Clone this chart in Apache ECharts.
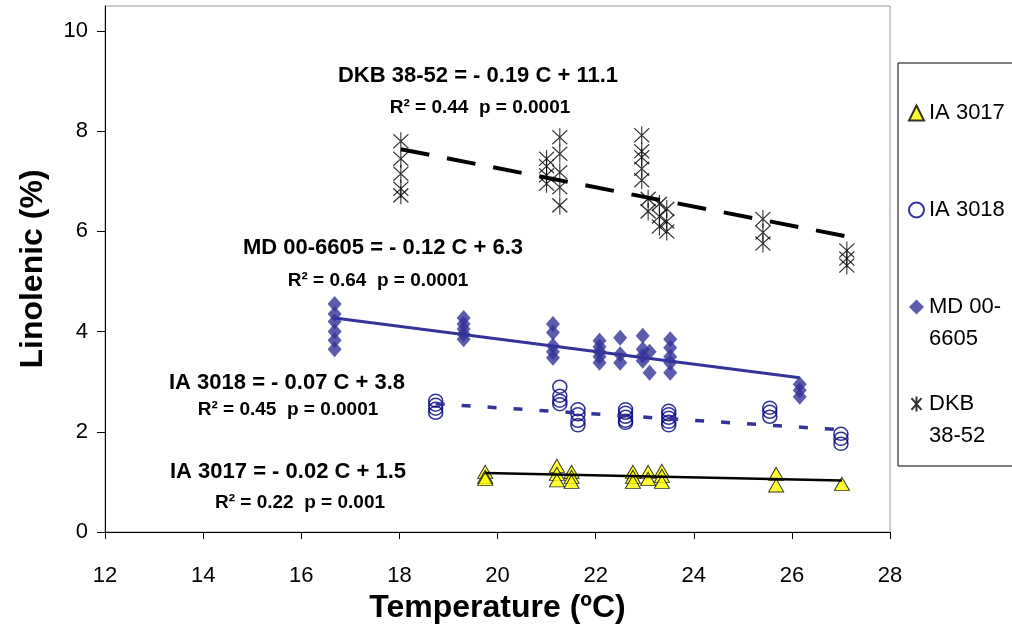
<!DOCTYPE html>
<html lang="en">
<head>
<meta charset="UTF-8">
<title>Linolenic vs Temperature</title>
<script src="https://cdn.jsdelivr.net/npm/echarts@6.0.0/dist/echarts.min.js"></script>
<style>
  html, body { margin: 0; padding: 0; background: #fff; }
  #chart { width: 1012px; height: 630px; }
</style>
</head>
<body>
<div id="chart"></div>
<script type="text/javascript">
// series points [temperature, linolenic]
var ia3017 = [
  [19.75, 1.2], [19.75, 1.1], [19.75, 1.06],
  [21.21, 1.32], [21.21, 1.16], [21.21, 1.03],
  [21.51, 1.2], [21.51, 1.1], [21.51, 1.0],
  [22.76, 1.2], [22.76, 1.1], [22.76, 1.0],
  [23.07, 1.2], [23.07, 1.06],
  [23.35, 1.22], [23.35, 1.12], [23.35, 1.0],
  [25.68, 1.16], [25.68, 0.93],
  [27.02, 0.96]
];
var ia3018 = [
  [18.74, 2.62], [18.74, 2.54], [18.74, 2.46], [18.74, 2.38],
  [21.27, 2.9], [21.27, 2.72], [21.27, 2.62], [21.27, 2.55],
  [21.64, 2.45], [21.64, 2.35], [21.64, 2.22], [21.64, 2.13],
  [22.61, 2.45], [22.61, 2.38], [22.61, 2.3], [22.61, 2.22], [22.61, 2.18],
  [23.49, 2.42], [23.49, 2.35], [23.49, 2.28], [23.49, 2.2], [23.49, 2.13],
  [25.55, 2.48], [25.55, 2.4], [25.55, 2.3],
  [27.0, 1.96], [27.0, 1.86], [27.0, 1.76]
];
var md006605 = [
  [16.68, 4.55], [16.68, 4.35], [16.68, 4.2], [16.68, 4.0], [16.68, 3.83], [16.68, 3.65],
  [19.31, 4.27], [19.31, 4.15], [19.31, 4.05], [19.31, 3.95], [19.31, 3.85],
  [21.13, 4.15], [21.13, 3.98], [21.13, 3.72], [21.13, 3.6], [21.13, 3.48],
  [22.08, 3.82], [22.08, 3.7], [22.08, 3.6], [22.08, 3.5], [22.08, 3.38],
  [22.5, 3.88], [22.5, 3.55], [22.5, 3.38],
  [22.96, 3.92], [22.96, 3.65], [22.96, 3.52], [22.96, 3.42],
  [23.1, 3.6], [23.1, 3.18],
  [23.52, 3.85], [23.52, 3.68], [23.52, 3.5], [23.52, 3.38], [23.52, 3.18],
  [26.16, 2.95], [26.16, 2.83], [26.16, 2.7]
];
var dkb3852 = [
  [18.03, 7.8], [18.03, 7.45], [18.03, 7.15], [18.03, 6.85], [18.03, 6.72],
  [21.0, 7.45], [21.0, 7.3], [21.0, 7.12], [21.0, 6.95],
  [21.27, 7.88], [21.27, 7.55], [21.27, 7.18], [21.27, 6.88], [21.27, 6.52],
  [22.94, 7.92], [22.94, 7.6], [22.94, 7.48], [22.94, 7.25], [22.94, 7.02],
  [23.07, 6.65], [23.07, 6.4],
  [23.3, 6.55], [23.3, 6.3], [23.3, 6.1],
  [23.45, 6.45], [23.45, 6.2], [23.45, 6.0],
  [25.41, 6.25], [25.41, 5.98], [25.41, 5.76],
  [27.12, 5.62], [27.12, 5.46], [27.12, 5.32]
];

// trend line end points
var trend3017 = [[19.75, 1.18], [27.02, 1.03]];
var trend3018 = [[18.74, 2.56], [27.0, 2.04]];
var trendMD = [[16.68, 4.27], [26.16, 3.08]];
var trendDKB = [[18.03, 7.64], [27.12, 5.9]];

var seriesNames = ['IA 3017', 'IA 3018', 'MD 00-6605', 'DKB 38-52'];
var legendText = {
  'IA 3017': '\nIA 3017\n',
  'IA 3018': '\nIA 3018\n',
  'MD 00-6605': '\nMD 00-\n6605',
  'DKB 38-52': '\nDKB\n38-52'
};

var equations = [
  'DKB 38-52 = - 0.19 C + 11.1',
  'MD 00-6605 = - 0.12 C + 6.3',
  'IA 3018 = - 0.07 C + 3.8',
  'IA 3017 = - 0.02 C + 1.5'
];
var stats = [
  'R² = 0.44  p = 0.0001',
  'R² = 0.64  p = 0.0001',
  'R² = 0.45  p = 0.0001',
  'R² = 0.22  p = 0.001'
];

var yTicks = [0, 2, 4, 6, 8, 10];

var FONT = 'Liberation Sans, Arial, sans-serif';
var asterisk = 'path://M0 2L12 16M12 2L0 16M6 0L6 18';

// where each equation / stats line sits (centre x, centre y)
var eqPos = [[478, 76], [383, 248], [287, 383], [288, 472]];
var stPos = [[480, 108], [378, 281], [288, 410], [300, 503]];

var graphics = [];
for (var i = 0; i < equations.length; i++) {
  graphics.push({
    type: 'text', x: eqPos[i][0], y: eqPos[i][1], z: 100,
    style: { text: equations[i], fill: '#000', font: 'bold 22px ' + FONT,
      textAlign: 'center', textVerticalAlign: 'middle' }
  });
  graphics.push({
    type: 'text', x: stPos[i][0], y: stPos[i][1], z: 100,
    style: { text: stats[i], fill: '#000', font: 'bold 19px ' + FONT,
      textAlign: 'center', textVerticalAlign: 'middle' }
  });
}

var chart = echarts.init(document.getElementById('chart'));

var option = {
  animation: false,
  backgroundColor: '#fff',
  textStyle: { fontFamily: FONT },
  grid: {
    left: 105, right: 122, top: 6, bottom: 98,
    show: true, borderColor: '#9a9a9a', borderWidth: 1
  },
  legend: {
    orient: 'vertical',
    left: 898, top: 63,
    data: seriesNames,
    itemWidth: 15, itemHeight: 15, itemGap: 1,
    padding: [2, 40, 14, 10],
    borderColor: '#000', borderWidth: 1,
    formatter: function (name) { return legendText[name]; },
    textStyle: { fontSize: 22, lineHeight: 32, color: '#000', fontFamily: FONT }
  },
  xAxis: {
    type: 'value', min: 12, max: 28, interval: 2,
    name: 'Temperature (ºC)', nameLocation: 'middle', nameGap: 57,
    nameTextStyle: { fontSize: 32, fontWeight: 'bold', color: '#000', fontFamily: FONT },
    axisLine: { lineStyle: { color: '#000', width: 1 } },
    axisTick: { show: true, length: 7, lineStyle: { color: '#000' } },
    axisLabel: { fontSize: 22, color: '#000', margin: 33, fontFamily: FONT },
    splitLine: { show: false }
  },
  yAxis: {
    type: 'value', min: 0, max: 10.5,
    name: 'Linolenic (%)', nameLocation: 'middle', nameGap: 56,
    nameTextStyle: { fontSize: 32, fontWeight: 'bold', color: '#000', fontFamily: FONT },
    axisLine: { show: true, lineStyle: { color: '#000', width: 1 } },
    axisTick: { show: true, length: 8, customValues: yTicks, lineStyle: { color: '#000' } },
    axisLabel: { fontSize: 22, color: '#000', margin: 17, customValues: yTicks, fontFamily: FONT },
    splitLine: { show: false }
  },
  graphic: graphics,
  series: [
    {
      name: 'IA 3017', type: 'scatter', data: ia3017,
      symbol: 'triangle', symbolSize: [15, 13],
      itemStyle: { color: '#ffff00', borderColor: '#000', borderWidth: 1 }, z: 3
    },
    {
      name: 'IA 3018', type: 'scatter', data: ia3018,
      symbol: 'circle', symbolSize: [14, 13],
      itemStyle: { color: 'rgba(255,255,255,0)', borderColor: '#000080', borderWidth: 1.5 }, z: 3
    },
    {
      name: 'MD 00-6605', type: 'scatter', data: md006605,
      symbol: 'diamond', symbolSize: [14, 16],
      itemStyle: { color: '#333399' }, z: 3
    },
    {
      name: 'DKB 38-52', type: 'scatter', data: dkb3852,
      symbol: asterisk, symbolSize: [15, 18],
      itemStyle: { color: 'rgba(255,255,255,0)', borderColor: '#000', borderWidth: 1.2 }, z: 3
    },
    {
      name: 'trend 3017', type: 'line', data: trend3017, symbol: 'none', z: 5,
      lineStyle: { color: '#000', width: 2.5 }
    },
    {
      name: 'trend 3018', type: 'line', data: trend3018, symbol: 'none', z: 5,
      lineStyle: { color: '#333399', width: 3.5, type: [9, 17] }
    },
    {
      name: 'trend MD', type: 'line', data: trendMD, symbol: 'none', z: 5,
      lineStyle: { color: '#333399', width: 3 }
    },
    {
      name: 'trend DKB', type: 'line', data: trendDKB, symbol: 'none', z: 5,
      lineStyle: { color: '#000', width: 4, type: [29, 18] }
    }
  ]
};

chart.setOption(option);
</script>
</body>
</html>
